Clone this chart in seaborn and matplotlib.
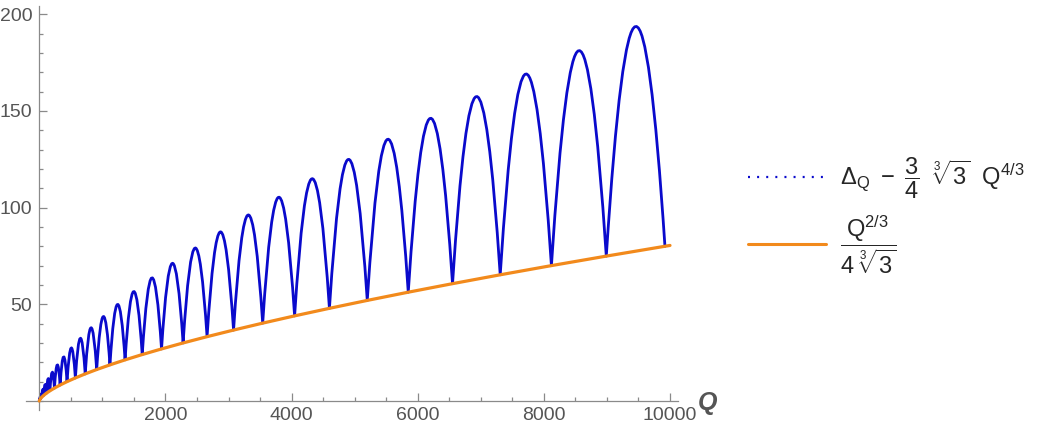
import numpy as np
import matplotlib
matplotlib.use("Agg")
import matplotlib.pyplot as plt
import seaborn as sns
from matplotlib.path import Path
from matplotlib.patches import PathPatch
from matplotlib.lines import Line2D
from matplotlib.ticker import MultipleLocator, FixedLocator

sns.set_style("white")
plt.rcParams['font.family'] = ['Liberation Sans', 'DejaVu Sans']
plt.rcParams['mathtext.fontset'] = 'custom'
plt.rcParams['mathtext.rm'] = 'Liberation Sans'
plt.rcParams['mathtext.it'] = 'Liberation Sans'
plt.rcParams['mathtext.default'] = 'regular'

# ── data ──────────────────────────────────────────────────
# Q where the blue arches touch the orange curve (shell closures)
min_q = [0, 2, 8, 20, 40, 70, 112, 168, 240, 330, 440, 572, 728, 910,
         1120, 1360, 1632, 1938, 2280, 2660, 3080, 3542, 4048, 4600,
         5200, 5850, 6552, 7308, 8120, 8990, 9920]
min_val = [0, 0.28, 0.69, 1.28, 2.03, 2.94, 4.03, 5.28, 6.69, 8.28, 10.03,
           11.94, 14.03, 16.28, 18.69, 21.28, 24.03, 26.94, 30.03, 33.28,
           36.69, 40.28, 44.03, 47.94, 52.03, 56.28, 60.69, 65.28, 70.03,
           74.94, 80.03]
# top of each arch
peak_q = [1.1, 5.2, 14.3, 30.4, 55.5, 91.5, 140.6, 204.7, 285.8, 385.9,
          507.0, 651.0, 820.1, 1016.2, 1241.3, 1497.4, 1786.5, 2110.5,
          2471.6, 2871.7, 3312.8, 3796.9, 4326.0, 4902.0, 5527.1, 6203.2,
          6932.3, 7716.4, 8557.5, 9457.5]
peak_val = [0.42, 1.25, 2.5, 4.17, 6.25, 8.75, 11.67, 15.0, 18.75, 22.92,
            27.5, 32.5, 37.92, 43.75, 50.0, 56.67, 63.75, 71.25, 79.17,
            87.5, 96.25, 105.42, 115.0, 125.0, 135.42, 146.25, 157.5,
            169.17, 181.25, 193.75]
# orange curve Q^(2/3) / (4 * 3^(1/3))
orange_q = min_q + [10000]
orange_val = min_val + [80.46]

BLUE = '#0a0acc'
ORANGE = '#f28a1c'
AXIS = '#8a8a8a'
LABEL = '#555555'

fig = plt.figure(figsize=(10.5, 4.32), dpi=100)
ax = fig.add_axes([26 / 1050, 22 / 432, 652 / 1050, 404 / 432])

# blue arches: one quadratic curve per arch, through both minima and the peak
verts = [(min_q[0], min_val[0])]
codes = [Path.MOVETO]
for i in range(len(peak_q)):
    qa, ya = min_q[i], min_val[i]
    qb, yb = min_q[i + 1], min_val[i + 1]
    qp, yp = peak_q[i], peak_val[i]
    m = (yb - ya) / (qb - qa)
    k = (yp - ya - m * (qp - qa)) / ((qp - qa) * (qb - qp))
    w = qb - qa
    verts += [((qa + qb) / 2, (ya + yb) / 2 + k * w * w / 2), (qb, yb)]
    codes += [Path.CURVE3, Path.CURVE3]
ax.add_patch(PathPatch(Path(verts, codes), fill=False, edgecolor=BLUE,
                       lw=2.0, joinstyle='round', capstyle='round', zorder=2))

sns.lineplot(x=orange_q, y=orange_val, ax=ax, color=ORANGE, lw=2.3,
             legend=False, zorder=3)

ax.set_xlim(-211, 10127)
ax.set_ylim(-4.65, 204.3)

# Mathematica-like axes through the origin
for s in ['top', 'right']:
    ax.spines[s].set_visible(False)
for s in ['left', 'bottom']:
    ax.spines[s].set_position(('data', 0))
    ax.spines[s].set_color(AXIS)
    ax.spines[s].set_linewidth(0.9)

ax.xaxis.set_major_locator(FixedLocator([2000, 4000, 6000, 8000, 10000]))
ax.xaxis.set_minor_locator(MultipleLocator(500))
ax.yaxis.set_major_locator(FixedLocator([50, 100, 150, 200]))
ax.yaxis.set_minor_locator(MultipleLocator(10))
ax.tick_params(which='both', direction='in', color=AXIS, width=0.9,
               labelcolor=LABEL, labelsize=14, bottom=True, left=True,
               top=False, right=False)
ax.tick_params(which='major', length=5.5)
ax.tick_params(which='minor', length=3.2)
ax.tick_params(axis='x', which='major', pad=4)
ax.tick_params(axis='y', which='major', pad=5)
ax.set_xlabel('')
ax.set_ylabel('')

fig.text(708 / 1050, 1 - 403 / 432, 'Q', fontsize=18, fontweight='bold',
         fontstyle='italic', color=LABEL, ha='center', va='center')

handles = [Line2D([], [], color=BLUE, lw=1.6, ls=(0, (0.9, 3.2))),
           Line2D([], [], color=ORANGE, lw=2.2)]
labels = [r'$\Delta_Q\ -\ \dfrac{3}{4}\ \ \sqrt[3]{3}\ \ Q^{4/3}$',
          r'$\dfrac{Q^{2/3}}{4\ \sqrt[3]{3}}$']
fig.legend(handles, labels, loc='center left',
           bbox_to_anchor=(748 / 1050, 1 - 216 / 432), frameon=False,
           fontsize=17, handlelength=3.3, handletextpad=0.6,
           labelspacing=0.55, borderpad=0, borderaxespad=0)

fig.savefig('out.png', dpi=100)
